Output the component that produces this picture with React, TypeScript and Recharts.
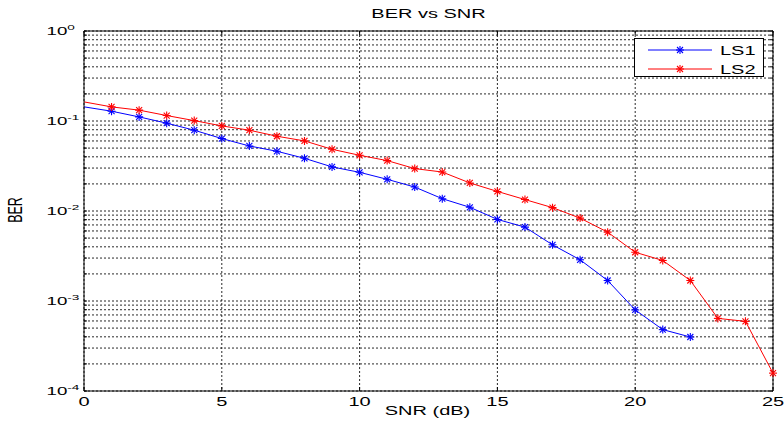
import React from 'react';
import { LineChart, Line, XAxis, YAxis, CartesianGrid, Legend } from 'recharts';

// values
const snr = [0, 1, 2, 3, 4, 5, 6, 7, 8, 9, 10, 11, 12, 13, 14, 15, 16, 17, 18, 19, 20, 21, 22, 23, 24, 25];
const ls1 = [0.1436, 0.1285, 0.111, 0.0946, 0.079, 0.0638, 0.0528, 0.0461, 0.0385, 0.0309, 0.0269, 0.0225, 0.01845,
  0.0137, 0.011, 0.00806, 0.00662, 0.00421, 0.00287, 0.00169, 0.000796, 0.000481, 0.000398];
const ls2 = [0.163, 0.1435, 0.132, 0.115, 0.101, 0.0882, 0.079, 0.0677, 0.0601, 0.0485, 0.0416, 0.0363, 0.0296,
  0.0271, 0.0205, 0.0165, 0.0134, 0.0109, 0.00834, 0.00582, 0.00348, 0.00282, 0.00169, 0.000641, 0.000594, 0.000158];

const xTicks = [0, 5, 10, 15, 20, 25];
const decades = [-4, -3, -2, -1];
const mantissas = [1, 2, 3, 4, 5, 6, 7, 8, 9];
const yTicks = [...decades.flatMap((e) => mantissas.map((m) => m * Math.pow(10, e))), 1];

const data = snr.map((s, i) => ({ snr: s, ls1: ls1[i], ls2: ls2[i] }));

const FONT = '"Liberation Sans", Arial, sans-serif';
const SX = 1.6;

const Asterisk = (props: any) => {
  const { cx, cy, stroke, payload } = props;
  if (cx == null || cy == null || payload.snr === 0) return <g />;
  return (
    <g stroke={stroke} strokeWidth={1.1}>
      <line x1={cx - 4} y1={cy} x2={cx + 4} y2={cy} />
      <line x1={cx} y1={cy - 4} x2={cx} y2={cy + 4} />
      <line x1={cx - 3} y1={cy - 3} x2={cx + 3} y2={cy + 3} />
      <line x1={cx - 3} y1={cy + 3} x2={cx + 3} y2={cy - 3} />
    </g>
  );
};

const YTick = (props: any) => {
  const { x, y, payload } = props;
  const lg = Math.log10(payload.value);
  if (Math.abs(lg - Math.round(lg)) > 1e-6) return <g />;
  return (
    <text transform={`translate(${x - 37.5},${y + 3.5}) scale(1.7,1)`} fontFamily={FONT} fontSize={11} fill="#000">
      10
      <tspan fontSize={8} dy={-5}>{Math.round(lg)}</tspan>
    </text>
  );
};

const XTick = (props: any) => {
  const { x, y, payload } = props;
  return (
    <text transform={`translate(${x},${y + 15}) scale(${SX},1)`} textAnchor="middle" fontFamily={FONT} fontSize={12.5} fill="#000">
      {payload.value}
    </text>
  );
};

const Empty = () => <g />;

const renderLegend = (props: any) => {
  const items = props.payload || [];
  return (
    <svg width={131} height={40} style={{ display: 'block' }}>
      <rect x={0.5} y={0.5} width={129} height={38} fill="#fff" stroke="#000" />
      {items.map((it: any, i: number) => {
        const y = 12 + i * 19;
        return (
          <g key={it.value}>
            <line x1={14} y1={y} x2={78} y2={y} stroke={it.color} />
            <Asterisk cx={46} cy={y} stroke={it.color} payload={{ snr: 1 }} />
            <text transform={`translate(86,${y + 4.5}) scale(${SX},1)`} fontFamily={FONT} fontSize={12.5} fill="#000">
              {it.value}
            </text>
          </g>
        );
      })}
    </svg>
  );
};

export default function App() {
  return (
    <div style={{ position: 'absolute', left: 0, top: 0, width: 784, height: 428, background: '#fff' }}>
      <LineChart width={784} height={428} data={data} margin={{ top: 1, right: 1, bottom: 0, left: 0 }}>
        <CartesianGrid stroke="#111" strokeDasharray="2 2" strokeWidth={0.9} />
        <XAxis
          dataKey="snr"
          type="number"
          domain={[0, 25]}
          ticks={xTicks}
          height={37}
          tickSize={-4}
          tickMargin={4}
          tick={<XTick />}
          axisLine={{ stroke: '#000' }}
          tickLine={{ stroke: '#000' }}
        />
        <XAxis
          xAxisId="top"
          orientation="top"
          type="number"
          domain={[0, 25]}
          ticks={xTicks}
          height={30}
          tickSize={-4}
          tick={Empty}
          axisLine={{ stroke: '#000' }}
          tickLine={{ stroke: '#000' }}
        />
        <YAxis
          scale="log"
          type="number"
          domain={[1e-4, 1]}
          allowDataOverflow
          ticks={yTicks}
          interval={0}
          width={84}
          tickSize={-3}
          tickMargin={3}
          tick={<YTick />}
          axisLine={{ stroke: '#000' }}
          tickLine={{ stroke: '#000' }}
        />
        <YAxis
          yAxisId="right"
          orientation="right"
          scale="log"
          type="number"
          domain={[1e-4, 1]}
          allowDataOverflow
          ticks={yTicks}
          interval={0}
          width={10}
          tickSize={-3}
          tick={Empty}
          axisLine={{ stroke: '#000' }}
          tickLine={{ stroke: '#000' }}
        />
        <Line dataKey="ls1" name="LS1" stroke="#0000ff" strokeWidth={1} dot={<Asterisk />} activeDot={false} isAnimationActive={false} />
        <Line dataKey="ls2" name="LS2" stroke="#ff0000" strokeWidth={1} dot={<Asterisk />} activeDot={false} isAnimationActive={false} />
        <Legend
          layout="horizontal"
          verticalAlign="middle"
          content={renderLegend}
          wrapperStyle={{ position: 'absolute', left: 634, top: 38, width: 131, height: 40, margin: 0, padding: 0 }}
        />
      </LineChart>
      <svg width={784} height={428} style={{ position: 'absolute', left: 0, top: 0, pointerEvents: 'none' }}>
        <text transform={`translate(428.5,18.3) scale(${SX},1)`} textAnchor="middle" fontFamily={FONT} fontSize={12.5} fill="#000">
          BER vs SNR
        </text>
        <text transform={`translate(427.5,415) scale(${SX},1)`} textAnchor="middle" fontFamily={FONT} fontSize={12.5} fill="#000">
          SNR (dB)
        </text>
        <text transform={`translate(22,210) scale(${SX},1) rotate(-90)`} textAnchor="middle" fontFamily={FONT} fontSize={12.5} fill="#000">
          BER
        </text>
      </svg>
    </div>
  );
}
